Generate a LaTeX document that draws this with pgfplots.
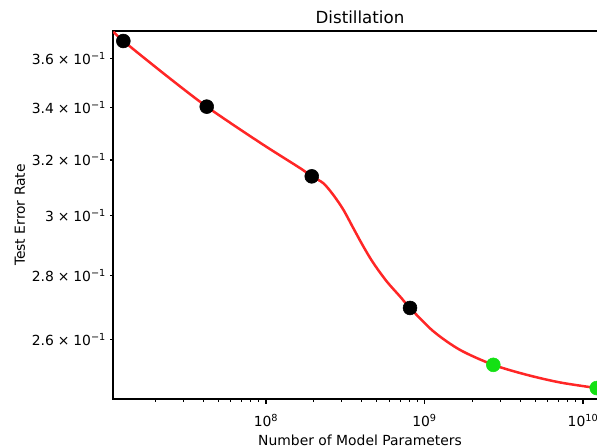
\documentclass[border=0pt]{standalone}
\usepackage{fontspec}
\setmainfont{DejaVu Sans}
\usepackage{pgfplots}
\pgfplotsset{compat=1.18}
\definecolor{lred}{RGB}{255,38,38}
\definecolor{lgreen}{RGB}{20,225,20}
\newcommand{\tl}[1]{#1\kern2.8pt×\kern2.8pt10\textsuperscript{−1}}
\begin{document}
\begin{tikzpicture}
\begin{axis}[
  name=ax, at={(0,0)}, anchor=south west,
  scale only axis, width=355.68pt, height=264.96pt,
  xmode=log, ymode=log,
  xmin=1.083e7, xmax=1.417e10, ymin=0.2426, ymax=0.3716,
  axis line style={line width=0.8pt, black},
  tick align=outside, tick pos=left,
  major tick length=3.5pt, minor tick length=2pt,
  tick style={black, line width=0.8pt},
  minor tick style={black, line width=0.6pt},
  xtick={1e8,1e9,1e10},
  xticklabels={10\textsuperscript{8},10\textsuperscript{9},10\textsuperscript{10}},
  minor xtick={2e7,3e7,4e7,5e7,6e7,7e7,8e7,9e7,2e8,3e8,4e8,5e8,6e8,7e8,8e8,9e8,2e9,3e9,4e9,5e9,6e9,7e9,8e9,9e9},
  ytick={0.26,0.28,0.30,0.32,0.34,0.36},
  yticklabels={\tl{2.6},\tl{2.8},\tl{3},\tl{3.2},\tl{3.4},\tl{3.6}},
  ytick style={/pgfplots/major tick length=2pt},
  yminorticks=false,
  ticklabel style={font=\fontsize{10}{12}\selectfont},
  xticklabel style={yshift=-4pt},
  yticklabel style={xshift=2pt},
  title={Distillation},
  every axis title/.style={at={(axis description cs:0.5,1.0377)}, anchor=center, font=\fontsize{12}{14}\selectfont},
  xlabel={Number of Model Parameters},
  every axis x label/.style={at={(axis description cs:0.5,-0.1113)}, anchor=center, font=\fontsize{10}{12}\selectfont},
  ylabel={Test Error Rate},
  every axis y label/.style={at={(axis description cs:-0.1884,0.5)}, anchor=center, rotate=90, font=\fontsize{10}{12}\selectfont},
]
\addplot[only marks, mark=*, mark size=5pt, black] coordinates {
  (1.258e7,0.3673) (4.225e7,0.3404) (1.943e8,0.3140) (8.1e8,0.2696)
};
\addplot[only marks, mark=*, mark size=5pt, color=lgreen] coordinates {
  (2.716e9,0.2524) (1.2205e10,0.2457)
};
\addplot[lred, line width=1.8pt, smooth, no marks] coordinates {
  (1.088e7,0.3713) (1.258e7,0.3673) (2.249e7,0.3538) (4.225e7,0.3404)
  (9.166e7,0.3265) (1.639e8,0.3170) (1.943e8,0.3140) (2.299e8,0.3115)
  (2.658e8,0.3073) (3.074e8,0.3021) (3.555e8,0.2957) (4.111e8,0.2895)
  (4.753e8,0.2840) (5.775e8,0.2780) (7.006e8,0.2732) (8.1e8,0.2696)
  (1.1365e9,0.2624) (1.675e9,0.2568) (2.716e9,0.2524) (4.414e9,0.2495)
  (7.161e9,0.2473) (1.2205e10,0.2457) (1.417e10,0.2454)
};
\end{axis}
\pgfresetboundingbox
\path[use as bounding box] (-81.36pt,-35.28pt) rectangle (348.48pt,287.28pt);
\end{tikzpicture}
\end{document}
